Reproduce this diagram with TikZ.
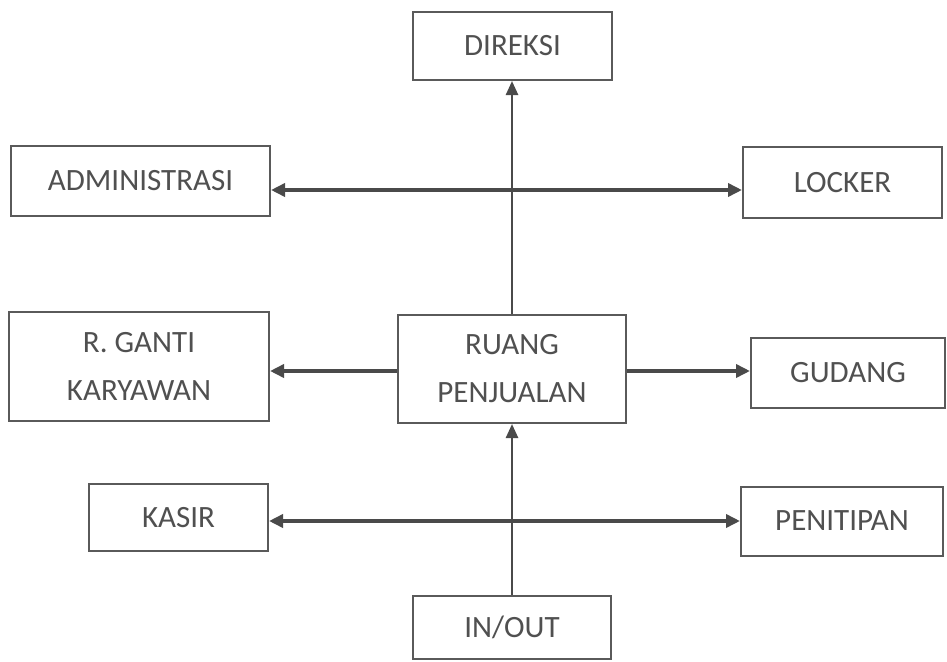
\documentclass[tikz,border=0pt]{standalone}
\usepackage{fontspec}
\setmainfont{Carlito}
\usetikzlibrary{arrows.meta}
\definecolor{boxline}{HTML}{5A5A5A}
\definecolor{conn}{HTML}{4A4A4A}
\definecolor{txt}{HTML}{505050}
\tikzset{
  room/.style={draw=boxline, line width=2pt, rectangle, inner sep=0pt,
    align=center, text=txt, font=\fontsize{31}{48}\selectfont},
  flow/.style={draw=conn, line width=3.5pt, -{Triangle[length=14pt,width=13pt]}},
  twoway/.style={draw=conn, line width=3.5pt,
    {Triangle[length=14pt,width=13pt]}-{Triangle[length=14pt,width=13pt]}},
  feed/.style={draw=conn, line width=2.5pt, -{Triangle[length=14pt,width=12pt]}}
}
\begin{document}
\begin{tikzpicture}[x=1pt,y=-1pt]
\useasboundingbox[fill=white] (0,0) rectangle (947,661);

% rooms
\node[room, minimum width=199pt, minimum height=68pt]  (direksi)  at (512.5,46)   {DIREKSI};
\node[room, minimum width=259pt, minimum height=70pt]  (admin)    at (140.5,181)  {ADMINISTRASI};
\node[room, minimum width=199pt, minimum height=71pt]  (locker)   at (842.5,182.5){LOCKER};
\node[room, minimum width=260pt, minimum height=109pt] (ganti)    at (139,366.5)  {R. GANTI\\KARYAWAN};
\node[room, minimum width=228pt, minimum height=108pt] (ruang)    at (512,369)    {RUANG\\PENJUALAN};
\node[room, minimum width=194pt, minimum height=70pt]  (gudang)   at (848,373)    {GUDANG};
\node[room, minimum width=179pt, minimum height=67pt]  (kasir)    at (178.5,517.5){KASIR};
\node[room, minimum width=202pt, minimum height=69pt]  (penitip)  at (842,521)    {PENITIPAN};
\node[room, minimum width=198pt, minimum height=63pt]  (inout)    at (512,627)    {IN/OUT};

% vertical spine
\draw[feed] (ruang.north) -- (ruang.north |- direksi.south);
\draw[feed] (inout.north) -- (inout.north |- ruang.south);

% side connections
\draw[twoway] ([yshift=-9pt]admin.east) -- ([yshift=-9pt]admin.east -| locker.west);
\draw[flow] ([yshift=-2pt]ruang.west) -- ([yshift=-2pt]ruang.west -| ganti.east);
\draw[flow] ([yshift=-2pt]ruang.east) -- ([yshift=-2pt]ruang.east -| gudang.west);
\draw[twoway] (penitip.west -| kasir.east) -- (penitip.west);
\end{tikzpicture}
\end{document}
